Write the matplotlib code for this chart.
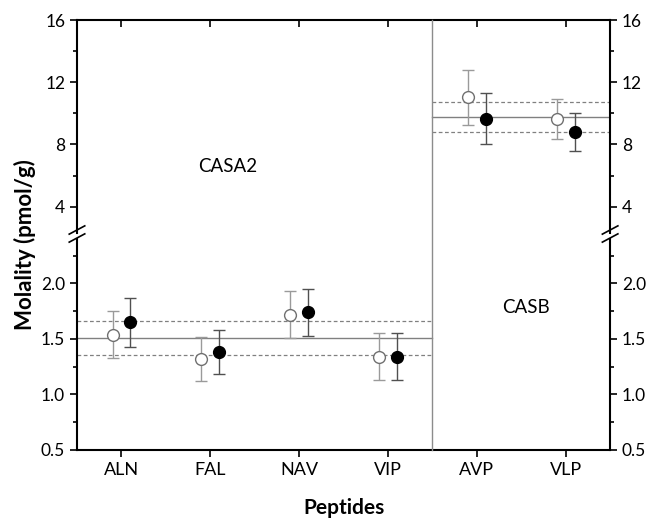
import numpy as np
import matplotlib.pyplot as plt
from matplotlib.ticker import MultipleLocator

plt.rcParams['font.family'] = ['Lato', 'DejaVu Sans']

# Datos
peptides = ['ALN', 'FAL', 'NAV', 'VIP', 'AVP', 'VLP']
open_vals = [1.54, 1.32, 1.72, 1.34, 11.03, 9.65]
open_err = [0.21, 0.20, 0.21, 0.21, 1.75, 1.30]
filled_vals = [1.65, 1.38, 1.74, 1.34, 9.67, 8.79]
filled_err = [0.22, 0.20, 0.21, 0.21, 1.61, 1.22]

groups = ['CASA2', 'CASB']
group_span = [(0.5, 4.5), (4.5, 6.5)]
group_mean = [1.51, 9.79]
group_low = [1.355, 8.81]
group_high = [1.665, 10.76]

x = np.arange(1, len(peptides) + 1)

fig = plt.figure(figsize=(6.47, 5.18), dpi=100)
ax_top = fig.add_axes([0.119, 0.550, 0.824, 0.4112])
ax_bot = fig.add_axes([0.119, 0.1313, 0.824, 0.4073])

for ax in (ax_top, ax_bot):
    ax.errorbar(x - 0.1, open_vals, yerr=open_err, fmt='o', ms=8.5, mfc='white', mec='#707070',
                mew=1.0, ecolor='#9a9a9a', elinewidth=1.0, capsize=4, capthick=1.0, zorder=3)
    ax.errorbar(x + 0.1, filled_vals, yerr=filled_err, fmt='o', ms=8.5, mfc='black', mec='black',
                ecolor='#505050', elinewidth=1.0, capsize=4, capthick=1.0, zorder=3)
    for (x0, x1), m, lo, hi in zip(group_span, group_mean, group_low, group_high):
        ax.plot([x0, x1], [m, m], color='#808080', lw=1.0, zorder=1)
        ax.plot([x0, x1], [lo, lo], color='#808080', lw=0.9, ls=(0, (3, 2)), zorder=1)
        ax.plot([x0, x1], [hi, hi], color='#808080', lw=0.9, ls=(0, (3, 2)), zorder=1)
    ax.set_xlim(0.5, 6.5)
    for s in ax.spines.values():
        s.set_linewidth(1.5)
    ax.tick_params(axis='y', which='both', left=True, right=True, labelleft=True,
                   labelright=True, direction='out', labelsize=12.5, width=1.2)
    ax.tick_params(axis='y', which='major', length=5)
    ax.tick_params(axis='y', which='minor', length=3)

# Eje superior
ax_top.set_ylim(2.3, 16)
ax_top.yaxis.set_major_locator(MultipleLocator(4))
ax_top.yaxis.set_minor_locator(MultipleLocator(2))
ax_top.spines['bottom'].set_visible(False)
ax_top.set_xticks(x)
ax_top.tick_params(axis='x', bottom=False, top=True, labelbottom=False, direction='in',
                   length=5, width=1.2)
ax_top.text(2.2, 6.6, groups[0], fontsize=13.5, ha='center', va='center')

# Eje inferior
ax_bot.set_ylim(0.5, 2.4)
ax_bot.set_yticks([0.5, 1.0, 1.5, 2.0])
ax_bot.yaxis.set_minor_locator(MultipleLocator(0.25))
ax_bot.spines['top'].set_visible(False)
ax_bot.set_xticks(x)
ax_bot.set_xticklabels(peptides)
ax_bot.tick_params(axis='x', direction='out', length=5, width=1.2, labelsize=13)
ax_bot.text(5.55, 1.78, groups[1], fontsize=13.5, ha='center', va='center')

# Linea divisoria continua entre grupos (cruza el corte)
xdiv = ax_bot.transData.transform((4.5, 0))[0] / fig.bbox.width
fig.add_artist(plt.Line2D([xdiv, xdiv], [0.1313, 0.9614], color='#8c8c8c', lw=1.0,
                          transform=fig.transFigure))

# Marcas de corte del eje
for xf in (0.119, 0.943):
    for yp in (230, 238):
        yf = 1 - yp / 518
        fig.add_artist(plt.Line2D([xf - 0.012, xf + 0.012], [yf - 0.008, yf + 0.008],
                                  color='black', lw=1.2, transform=fig.transFigure))

fig.text(0.039, 1 - 245 / 518, 'Molality (pmol/g)', rotation=90, ha='center', va='center',
         fontsize=16, fontweight='bold')
fig.text(344 / 647, 1 - 508 / 518, 'Peptides', ha='center', va='center',
         fontsize=15, fontweight='bold')

fig.savefig('out.png', dpi=100)
